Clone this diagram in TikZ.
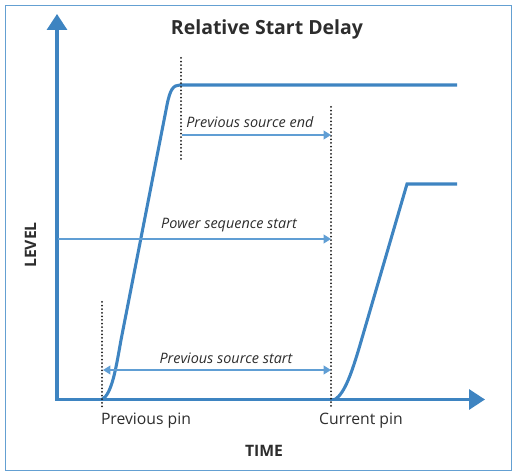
\documentclass[tikz,border=0pt]{standalone}
\usepackage{fontspec}
\setmainfont{Open Sans}
\usetikzlibrary{arrows.meta}
\definecolor{mainblue}{RGB}{62,132,193}
\definecolor{arrblue}{RGB}{96,158,212}
\definecolor{framecol}{RGB}{100,160,210}
\definecolor{txt}{RGB}{45,45,45}
\begin{document}
\begin{tikzpicture}[x=0.75pt,y=-0.75pt,
  signal/.style={draw=mainblue,line width=2.3pt,line join=round},
  axisline/.style={draw=mainblue,line width=2.3pt,line join=miter,
    {Triangle[length=12pt,width=15pt]}-{Triangle[length=12pt,width=15pt]}},
  span/.style={draw=arrblue,line width=1.3pt,-{Triangle[length=5.5pt,width=6.5pt]}},
  bispan/.style={span,{Triangle[length=5.5pt,width=6.5pt]}-{Triangle[length=5.5pt,width=6.5pt]}},
  guide/.style={draw=black!90,line width=1.5pt,line cap=round,dash pattern=on 0pt off 2.7pt},
  lbl/.style={text=txt,font=\fontsize{11.8pt}{14pt}\selectfont,inner sep=0pt},
  blbl/.style={lbl,font=\fontsize{11.8pt}{14pt}\selectfont\bfseries},
  ilbl/.style={text=txt,font=\fontsize{10.8pt}{13pt}\selectfont\itshape,inner sep=0pt}]
\useasboundingbox (0,0) rectangle (515,474);
\draw[framecol,line width=1.1pt] (5.5,5.5) rectangle (511.5,470.5);

% axes
\coordinate (O) at (57,399.5);
\coordinate (ytip) at (57,14);
\coordinate (xtip) at (485,399.5);
\draw[axisline] (ytip) -- (O) -- (xtip);

% signals
\coordinate (p0) at (102,399.5);
\coordinate (p1) at (121,340);
\coordinate (p2) at (167,105);
\coordinate (p3) at (180,85);
\coordinate (p4) at (457,85);
\draw[signal] (p0) .. controls (112,394) and (116,368) .. (p1) -- (p2)
  .. controls (170,90) and (173,85) .. (p3) -- (p4);
\coordinate (c0) at (335,399.5);
\coordinate (c1) at (360,345);
\coordinate (c2) at (407,184);
\coordinate (c3) at (457,184);
\draw[signal,line join=miter] (c0) .. controls (345,393) and (352,372) .. (c1) -- (c2) -- (c3);

% dotted guides
\coordinate (g1t) at (102,302); \coordinate (g1b) at (102,407);
\coordinate (g2t) at (181,58);  \coordinate (g2b) at (181,162);
\coordinate (g3t) at (331,107); \coordinate (g3b) at (331,408);
\draw[guide] (g1t) -- (g1b);
\draw[guide] (g2t) -- (g2b);
\draw[guide] (g3t) -- (g3b);

% spans
\coordinate (a1s) at (182,135); \coordinate (a1e) at (331,135);
\coordinate (a2s) at (58,239);  \coordinate (a2e) at (331,239);
\coordinate (a3s) at (103,370); \coordinate (a3e) at (331,370);
\draw[span] (a1s) -- (a1e);
\draw[span] (a2s) -- (a2e);
\draw[bispan] (a3s) -- (a3e);

% texts
\node[blbl,font=\fontsize{14.6pt}{17pt}\selectfont\bfseries] (title) at (267,29) {Relative Start Delay};
\node[ilbl,anchor=west] (t1) at (186,122) {Previous source end};
\node[ilbl] (t2) at (229,225) {Power sequence start};
\node[ilbl] (t3) at (226,358) {Previous source start};
\node[lbl] (prev) at (146,421) {Previous pin};
\node[lbl] (curr) at (361,421) {Current pin};
\node[blbl] (time) at (264,451) {TIME};
\node[blbl,rotate=90] (level) at (30.5,245) {LEVEL};
\end{tikzpicture}
\end{document}
